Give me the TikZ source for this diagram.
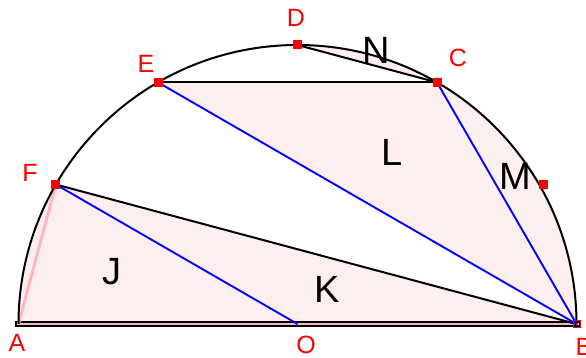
\documentclass[tikz,border=0pt]{standalone}
\usepackage{fontspec}
\setmainfont{Liberation Sans}
\definecolor{shadefill}{RGB}{253,238,240}
\definecolor{pinkline}{RGB}{255,182,193}
\definecolor{barfill}{RGB}{240,185,190}
\begin{document}
\begin{tikzpicture}[x=1pt,y=1pt,
  region/.style={fill=shadefill, draw=pinkline!60, line width=0.6pt},
  blk/.style={draw=black, line width=2pt},
  blu/.style={draw=blue, line width=1.9pt},
  ptmark/.style={fill=red, minimum size=9pt, inner sep=0pt},
  ptlabel/.style={text=red, font=\fontsize{25}{25}\selectfont, inner sep=0pt},
  reglabel/.style={text=black, font=\fontsize{38}{38}\selectfont, inner sep=0pt}]
\useasboundingbox (0,0) rectangle (586,358);
\def\R{279}
\coordinate (O) at (297.5,34);
\path (O) ++(180:\R) coordinate (A);
\path (O) ++(0:\R) coordinate (B);
\path (O) ++(90:\R) coordinate (D);
\path (O) ++(60:\R) coordinate (C);
\path (O) ++(120:\R) coordinate (E);
\path (O) ++(150:\R) coordinate (F);
\coordinate (Mp) at (543,173);
% shaded regions
\path[region] (A) arc[start angle=180,end angle=150,radius=\R] -- cycle;
\path[region] (A) -- (F) -- (B) -- cycle;
\path[region] (E) -- (C) -- (B) -- cycle;
\path[region] (C) arc[start angle=60,end angle=0,radius=\R] -- cycle;
\path[region] (D) arc[start angle=90,end angle=60,radius=\R] -- cycle;
% base bar
\draw[fill=barfill, line width=1.4pt] (16,32) rectangle (580,36);
% lines
\draw[pinkline, line width=3pt] (A) -- (F);
\draw[blk] (A) arc[start angle=180,end angle=0,radius=\R];
\draw[blk] (E) -- (C);
\draw[blk] (D) -- (C);
\draw[blk] (F) -- (B);
\draw[blu] (F) -- (O);
\draw[blu] (E) -- (B);
\draw[blu] (C) -- (B);
% markers
\node[ptmark] (mD) at (D) {};
\node[ptmark] (mC) at (C) {};
\node[ptmark] (mE) at (E) {};
\node[ptmark] (mF) at (F) {};
\node[ptmark] (mM) at (Mp) {};
\node[draw=red, line width=0.8pt, minimum size=7pt, inner sep=0pt] (mB) at (B) {};
% point labels
\node[ptlabel] (lA) at (17,15) {A};
\node[ptlabel] (lB) at (584,11) {B};
\node[ptlabel] (lO) at (306,13) {O};
\node[ptlabel] (lC) at (458,300) {C};
\node[ptlabel] (lD) at (296,340) {D};
\node[ptlabel] (lE) at (146,294) {E};
\node[ptlabel] (lF) at (30,185) {F};
% region labels
\node[reglabel] (lN) at (376,308) {N};
\node[reglabel] (lL) at (392,206) {L};
\node[reglabel] (lM) at (515,182) {M};
\node[reglabel] (lJ) at (112,86) {J};
\node[reglabel] (lK) at (327,69) {K};
\end{tikzpicture}
\end{document}
